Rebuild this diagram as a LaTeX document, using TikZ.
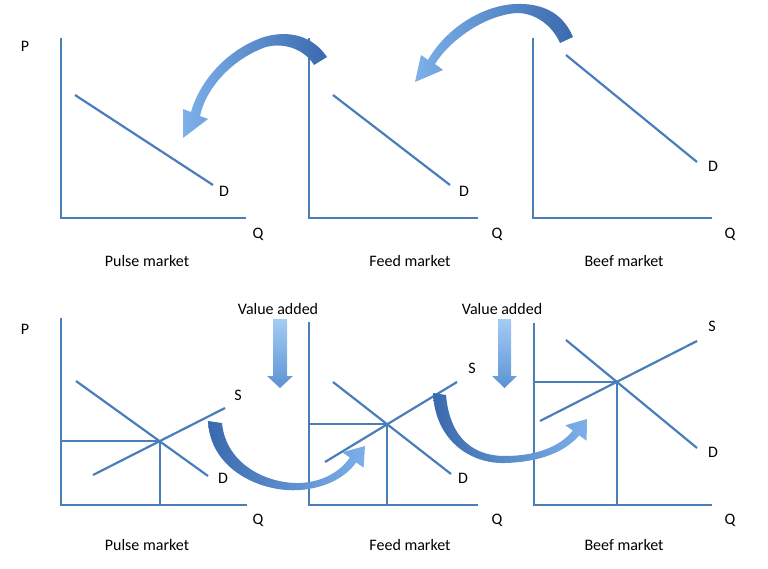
\documentclass[tikz,border=0pt]{standalone}
\usepackage{fontspec}
\setmainfont{Carlito}
\definecolor{axisblue}{HTML}{4A7EBB}
\definecolor{arrlight}{HTML}{7DB0EA}
\definecolor{arrmid}{HTML}{5C92D4}
\definecolor{arrdark}{HTML}{3A6AAD}
\definecolor{arrtop}{HTML}{A4CCF4}
\begin{document}
\begin{tikzpicture}[x=1pt,y=-1pt,
  ln/.style={axisblue, line width=2.2pt},
  lbl/.style={font=\fontsize{16}{18}\selectfont, inner sep=0pt, text=black},
  curvtop/.style={left color=arrlight, middle color=arrmid, right color=arrdark, draw=none},
  curvbot/.style={left color=arrdark, middle color=arrmid, right color=arrlight, draw=none},
  downarr/.style={top color=arrtop, bottom color=arrmid, draw=none}]
\useasboundingbox (0,0) rectangle (768,568);

% ---------- top row ----------
\coordinate (tY1) at (61,38);  \coordinate (tO1) at (61,218);  \coordinate (tX1) at (246,218);
\coordinate (tY2) at (309,38); \coordinate (tO2) at (309,218); \coordinate (tX2) at (478,218);
\coordinate (tY3) at (533,38); \coordinate (tO3) at (533,218); \coordinate (tX3) at (712,218);
\draw[ln] (tY1) -- (tO1) -- (tX1);
\draw[ln] (tY2) -- (tO2) -- (tX2);
\draw[ln] (tY3) -- (tO3) -- (tX3);
\coordinate (tD1a) at (75,95);  \coordinate (tD1b) at (213,185);
\coordinate (tD2a) at (333,95); \coordinate (tD2b) at (450,185);
\coordinate (tD3a) at (566,55); \coordinate (tD3b) at (697,162);
\draw[ln] (tD1a) -- (tD1b);
\draw[ln] (tD2a) -- (tD2b);
\draw[ln] (tD3a) -- (tD3b);
\node[lbl] (tP) at (25,46) {P};
\node[lbl] (tDl1) at (224,191) {D};
\node[lbl] (tDl2) at (464,191) {D};
\node[lbl] (tDl3) at (713,166) {D};
\node[lbl] (tQ1) at (258,234) {Q};
\node[lbl] (tQ2) at (497,234) {Q};
\node[lbl] (tQ3) at (730,234) {Q};
\node[lbl] (tT1) at (147,261) {Pulse market};
\node[lbl] (tT2) at (410,261) {Feed market};
\node[lbl] (tT3) at (624,261) {Beef market};

% top curved arrows
\shade[curvtop] (327,57) .. controls (312,35) and (288,30) .. (264,37)
  .. controls (228,49) and (200,80) .. (191,112)
  -- (183,109) -- (183,138) -- (208,119) -- (200,116)
  .. controls (206,88) and (232,59) .. (266,47)
  .. controls (285,42) and (305,50) .. (314,65) -- cycle;
\shade[curvtop] (573,37) .. controls (562,11) and (540,3) .. (515,4)
  .. controls (480,6) and (445,30) .. (428,60)
  -- (421,55) -- (415,82) -- (443,70) -- (435,64)
  .. controls (450,40) and (485,15) .. (517,13)
  .. controls (535,13) and (552,25) .. (560,43) -- cycle;

% ---------- bottom row ----------
\coordinate (bY1) at (61,318);  \coordinate (bO1) at (61,505);  \coordinate (bX1) at (247,505);
\coordinate (bY2) at (309,322); \coordinate (bO2) at (309,505); \coordinate (bX2) at (478,505);
\coordinate (bY3) at (534,323); \coordinate (bO3) at (534,505); \coordinate (bX3) at (712,505);
\draw[ln] (bY1) -- (bO1) -- (bX1);
\draw[ln] (bY2) -- (bO2) -- (bX2);
\draw[ln] (bY3) -- (bO3) -- (bX3);

\coordinate (bD1a) at (76,381);  \coordinate (bD1b) at (208,476);
\coordinate (bS1a) at (93,475);  \coordinate (bS1b) at (225,408);
\coordinate (bD2a) at (333,382); \coordinate (bD2b) at (451,474);
\coordinate (bS2a) at (325,462); \coordinate (bS2b) at (457,382);
\coordinate (bD3a) at (566,340); \coordinate (bD3b) at (697,448);
\coordinate (bS3a) at (540,421); \coordinate (bS3b) at (697,341);
\draw[ln] (bD1a) -- (bD1b);  \draw[ln] (bS1a) -- (bS1b);
\draw[ln] (bD2a) -- (bD2b);  \draw[ln] (bS2a) -- (bS2b);
\draw[ln] (bD3a) -- (bD3b);  \draw[ln] (bS3a) -- (bS3b);
\coordinate (E1) at (intersection of bD1a--bD1b and bS1a--bS1b);
\coordinate (E2) at (intersection of bD2a--bD2b and bS2a--bS2b);
\coordinate (E3) at (intersection of bD3a--bD3b and bS3a--bS3b);
\draw[ln] (E1 -| bO1) -- (E1) -- (E1 |- bO1);
\draw[ln] (E2 -| bO2) -- (E2) -- (E2 |- bO2);
\draw[ln] (E3 -| bO3) -- (E3) -- (E3 |- bO3);

\node[lbl] (bP) at (25,329) {P};
\node[lbl] (bSl1) at (238,395) {S};
\node[lbl] (bDl1) at (223,478) {D};
\node[lbl] (bSl2) at (472,368) {S};
\node[lbl] (bDl2) at (463,478) {D};
\node[lbl] (bSl3) at (712,326) {S};
\node[lbl] (bDl3) at (713,452) {D};
\node[lbl] (bQ1) at (258,520) {Q};
\node[lbl] (bQ2) at (497,520) {Q};
\node[lbl] (bQ3) at (730,520) {Q};
\node[lbl] (bT1) at (147,545) {Pulse market};
\node[lbl] (bT2) at (410,545) {Feed market};
\node[lbl] (bT3) at (624,545) {Beef market};

% value added
\node[lbl] (va1) at (278,309) {Value added};
\node[lbl] (va2) at (502,309) {Value added};
\shade[downarr] (273,319) -- (287,319) -- (287,376) -- (293,376) -- (280,388)
  -- (267,376) -- (273,376) -- cycle;
\shade[downarr] (498,319) -- (511,319) -- (511,376) -- (517,376) -- (504.5,388)
  -- (492,376) -- (498,376) -- cycle;

% bottom curved arrows
\shade[curvbot] (208,421) .. controls (210,470) and (262,493) .. (300,490)
  .. controls (325,488) and (345,478) .. (356.2,462.4)
  -- (363.6,467.7) -- (365,446) -- (342.4,452.3) -- (349.8,457.6)
  .. controls (340,472) and (322,482) .. (300,483)
  .. controls (268,484) and (226,465) .. (222,423) -- cycle;
\shade[curvbot] (433,393) .. controls (435,440) and (470,464) .. (505,463)
  .. controls (540,462) and (565,452) .. (579.2,435.4)
  -- (586.6,440.7) -- (587,419) -- (565.4,425.3) -- (572.8,430.6)
  .. controls (560,447) and (535,456) .. (505,456)
  .. controls (475,456) and (450,440) .. (446,395) -- cycle;
\end{tikzpicture}
\end{document}
